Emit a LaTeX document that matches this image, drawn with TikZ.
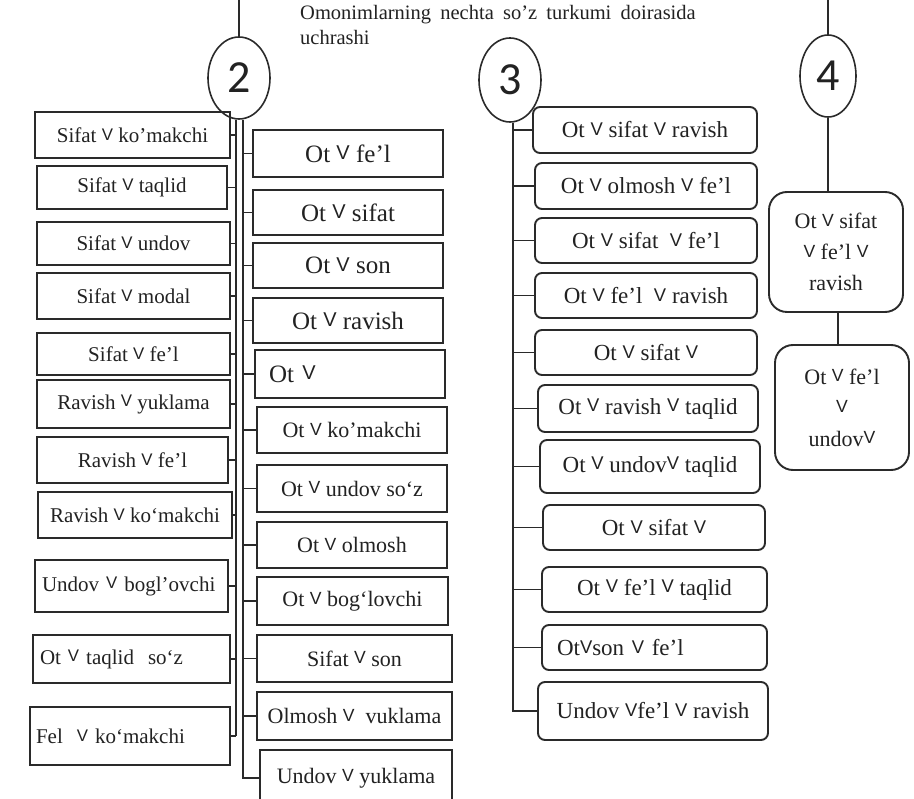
\documentclass[tikz,border=0pt]{standalone}
\usepackage{fontspec}
\usepackage{graphicx}
\setmainfont{Liberation Serif}
\newfontfamily\symfont{Liberation Sans}
\newfontfamily\digitfont{Carlito}
\usetikzlibrary{shapes.geometric}
\definecolor{ink}{HTML}{2A2A2A}
\definecolor{txt}{HTML}{222222}
% small raised "or" sign used between word classes
\newcommand\orv{\raisebox{0.22ex}{\scalebox{0.8}{\symfont V}}}
\tikzset{
  ln/.style={draw=ink, line width=1.9pt},
  sqbox/.style={draw=ink, line width=1.9pt, text=txt, inner sep=0pt},
  rdbox/.style={sqbox, rounded corners=7pt},
  bigrd/.style={sqbox, rounded corners=18pt, align=center},
  num/.style={draw=ink, line width=1.6pt, ellipse, inner sep=0pt, text=txt,
    font=\digitfont\fontsize{46}{46}\selectfont},
  sz/.style 2 args={minimum width=#1pt, minimum height=#2pt},
  lal/.style 2 args={text width=#1pt, align=left, inner xsep=#2pt},
  fL/.style={font=\fontsize{21}{24}\selectfont},
  fB/.style={font=\fontsize{25}{28}\selectfont},
  fM/.style={font=\fontsize{22}{24}\selectfont},
  fC/.style={font=\fontsize{23}{26}\selectfont},
  fR/.style={font=\fontsize{22}{31}\selectfont},
}
\begin{document}
\begin{tikzpicture}[x=1pt, y=-1pt]
\useasboundingbox (0,0) rectangle (914,799);
\fill[white] (0,0) rectangle (914,799);

% heading
\node[anchor=base west, text=txt, font=\fontsize{20.5}{24}\selectfont, inner sep=0pt] (head1) at (300,20)
  {{\spaceskip=0.45em Omonimlarning nechta so’z turkumi doirasida}};
\node[anchor=base west, text=txt, font=\fontsize{20.5}{24}\selectfont, inner sep=0pt] (head2) at (300,45) {uchrashi};

% numbered circles
\node[num, minimum width=62pt, minimum height=82pt] (c2) at (239,78) {2};
\node[num, minimum width=62pt, minimum height=84pt] (c3) at (510,80) {3};
\node[num, minimum width=56pt, minimum height=82pt] (c4) at (828,76) {4};

\coordinate (top2) at (239,0);
\coordinate (top4) at (828,0);
\draw[ln] (top2) -- (c2.north);
\draw[ln] (top4) -- (c4.north);

% group 2: left column
\node[sqbox, fL, sz={195}{46}] (L1) at (132.5,135) {Sifat \orv\ ko’makchi};
\node[sqbox, fL, sz={190}{43}] (L2) at (132,187.5) {Sifat \orv\ taqlid};
\node[sqbox, fL, sz={193}{43}] (L3) at (133.5,243.5) {Sifat \orv\ undov};
\node[sqbox, fL, sz={193}{46}] (L4) at (133.5,296) {Sifat \orv\ modal};
\node[sqbox, fL, sz={193}{42}] (L5) at (133.5,354) {Sifat \orv\ fe’l};
\node[sqbox, fL, sz={193}{48}] (L6) at (133.5,404) {Ravish \orv\ yuklama};
\node[sqbox, fL, sz={191}{46}] (L7) at (132.5,460) {Ravish \orv\ fe’l};
\node[sqbox, fL, sz={194}{46}] (L8) at (135,515) {Ravish \orv\ ko‘makchi};
\node[sqbox, fL, sz={193}{52}, lal={179}{7}] (L9) at (131.5,586) {Undov \orv\ bogl’ovchi};
\node[sqbox, fL, sz={197}{48}, lal={183}{7}] (L10) at (131.5,659) {Ot \orv\ taqlid\ \ so‘z};
\node[sqbox, fL, sz={200}{58}, lal={188}{6}] (L11) at (130,736) {Fel\ \ \orv\ ko‘makchi};

% group 2: right column
\node[sqbox, fB, sz={190}{47}] (R1) at (348,153.5) {Ot \orv\ fe’l};
\node[sqbox, fB, sz={190}{45}] (R2) at (348,212.5) {Ot \orv\ sifat};
\node[sqbox, fB, sz={190}{45}] (R3) at (348,265.5) {Ot \orv\ son};
\node[sqbox, fB, sz={190}{45}] (R4) at (348,320.5) {Ot \orv\ ravish};
\node[sqbox, fB, sz={190}{48}, lal={162}{14}] (R5) at (350,374) {Ot \orv};
\node[sqbox, fM, sz={190}{46}] (R6) at (352,430) {Ot \orv\ ko’makchi};
\node[sqbox, fM, sz={190}{47}] (R7) at (352,488.5) {Ot \orv\ undov so‘z};
\node[sqbox, fM, sz={190}{46}] (R8) at (352,545) {Ot \orv\ olmosh};
\node[sqbox, fM, sz={191}{48}] (R9) at (352.5,601) {Ot \orv\ bog‘lovchi};
\node[sqbox, fM, sz={195}{47}] (R10) at (354.5,658.5) {Sifat \orv\ son};
\node[sqbox, fM, sz={195}{48}] (R11) at (354.5,716) {Olmosh \orv\ \ vuklama};
\node[sqbox, fM, sz={192}{56}] (R12) at (356,778) {Undov \orv\ yuklama};

% group 2 trunk lines
\coordinate (spL) at ([xshift=-3pt]c2.south);
\coordinate (spR) at ([xshift=4pt]c2.south);
\draw[ln] (spL) -- (spL |- L11.east);
\draw[ln] (spR) |- (R12.west);
\foreach \n in {L1,L2,L3,L4,L5,L6,L7,L8,L9,L10,L11}
  \draw[ln] (\n.east) -- (\n.east -| spL);
\foreach \n in {R1,R2,R3,R4,R5,R6,R7,R8,R9,R10,R11}
  \draw[ln] (\n.west) -- (\n.west -| spR);

% group 3
\node[rdbox, fC, sz={224}{46}] (C1) at (645,130) {Ot \orv\ sifat \orv\ ravish};
\node[rdbox, fC, sz={222}{46}] (C2) at (646,186) {Ot \orv\ olmosh \orv\ fe’l};
\node[rdbox, fC, sz={222}{45}] (C3) at (646,240.5) {Ot \orv\ sifat\ \ \orv\ fe’l};
\node[rdbox, fC, sz={222}{45}] (C4) at (646,295.5) {Ot \orv\ fe’l\ \ \orv\ ravish};
\node[rdbox, fC, sz={222}{45}] (C5) at (646,352.5) {Ot \orv\ sifat \orv};
\node[rdbox, fC, sz={220}{47}] (C6) at (648,408.5) {Ot \orv\ ravish \orv\ taqlid};
\node[rdbox, fC, sz={220}{53}] (C7) at (650,466.5) {Ot \orv\ undov\orv\ taqlid};
\node[rdbox, fC, sz={222}{45}] (C8) at (654,527.5) {Ot \orv\ sifat \orv};
\node[rdbox, fC, sz={225}{45}] (C9) at (654.5,589.5) {Ot \orv\ fe’l \orv\ taqlid};
\node[rdbox, fC, sz={225}{45}, lal={195}{15}] (C10) at (654.5,647.5) {Ot\orv son \orv\ fe’l};
\node[rdbox, fC, sz={230}{58}] (C11) at (653,711) {Undov \orv fe’l \orv\ ravish};

\coordinate (sp3) at ([xshift=3pt]c3.south);
\draw[ln] (sp3) |- (C11.west);
\foreach \n in {C1,C2,C3,C4,C5,C6,C7,C8,C9,C10}
  \draw[ln] (\n.west) -- (\n.west -| sp3);

% group 4
\node[bigrd, fR, sz={134}{120}] (D1) at (836,252) {Ot \orv\ sifat\\ \orv\ fe’l \orv\\ ravish};
\node[bigrd, fR, sz={134}{125}] (D2) at (842,407.5) {Ot \orv\ fe’l\\ \orv\\ undov\orv};
\draw[ln] (c4.south) -- (c4.south |- D1.north);
\draw[ln] ([xshift=2pt]D1.south) -- ([xshift=2pt]D1.south |- D2.north);
\end{tikzpicture}
\end{document}
